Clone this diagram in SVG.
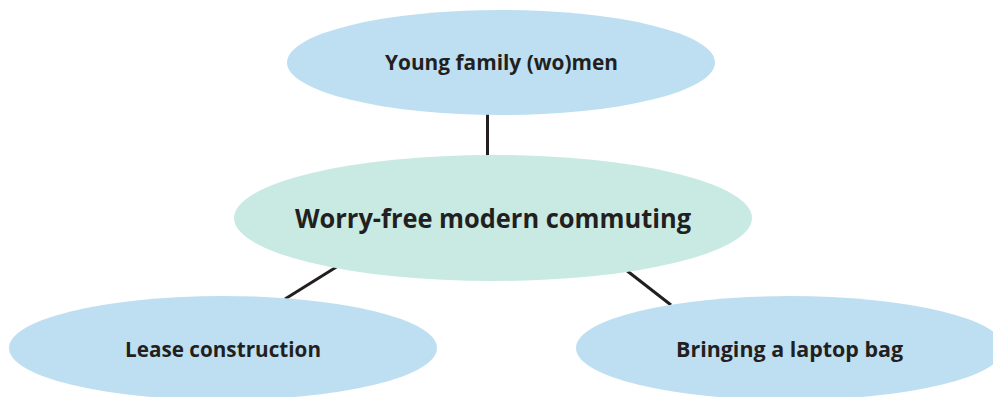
<svg xmlns="http://www.w3.org/2000/svg" width="993" height="397" viewBox="0 0 993 397">
  <style>
    .blue { fill: #bddff1; }
    .green { fill: #c8eae2; }
    .label { font-family: "Open Sans", "Liberation Sans", sans-serif; font-weight: bold; fill: #231f20; text-anchor: middle; }
    .small { font-size: 21px; }
    .big { font-size: 27.5px; }
    .link { stroke: #231f20; stroke-width: 3; fill: none; }
  </style>
  <rect width="993" height="397" fill="#ffffff"/>
  <g id="connectors">
    <line class="link" x1="487.5" y1="114" x2="487.5" y2="157"/>
    <line class="link" x1="338" y1="266" x2="285" y2="299"/>
    <line class="link" x1="626" y1="270" x2="671" y2="305"/>
  </g>
  <g id="young-family">
    <ellipse class="blue" cx="501" cy="62.5" rx="214" ry="52.5"/>
    <text class="label small" x="501.5" y="70" textLength="233" lengthAdjust="spacingAndGlyphs">Young family (wo)men</text>
  </g>
  <g id="worry-free">
    <ellipse class="green" cx="493" cy="218" rx="259" ry="63"/>
    <text class="label big" x="493" y="228" textLength="396" lengthAdjust="spacingAndGlyphs">Worry-free modern commuting</text>
  </g>
  <g id="lease">
    <ellipse class="blue" cx="223" cy="348" rx="214" ry="52"/>
    <text class="label small" x="223" y="357" textLength="196" lengthAdjust="spacingAndGlyphs">Lease construction</text>
  </g>
  <g id="laptop-bag">
    <ellipse class="blue" cx="790" cy="348" rx="214" ry="52"/>
    <text class="label small" x="789.5" y="357" textLength="227" lengthAdjust="spacingAndGlyphs">Bringing a laptop bag</text>
  </g>
</svg>
